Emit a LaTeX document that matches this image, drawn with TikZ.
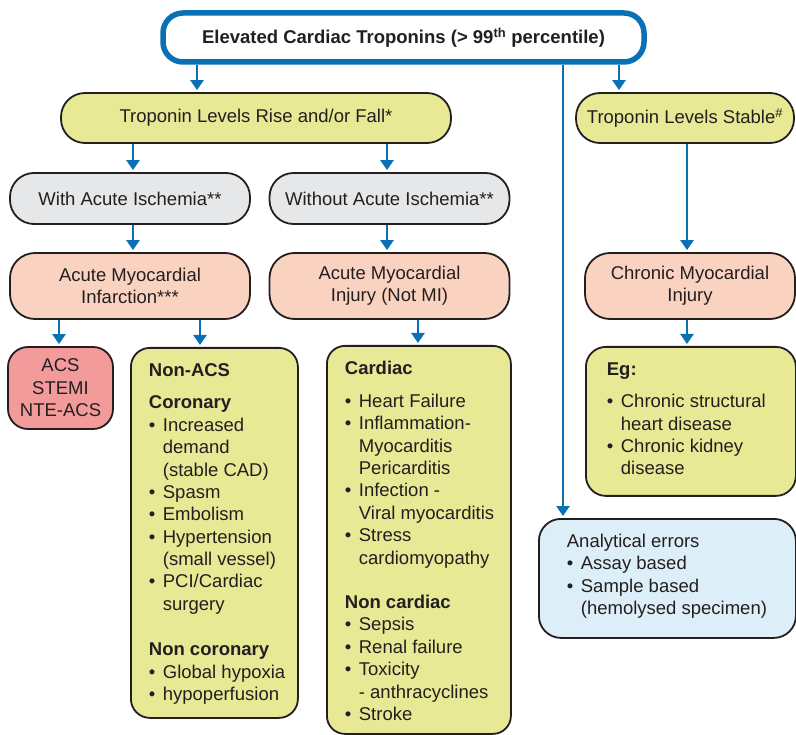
\documentclass[tikz,border=0pt]{standalone}
\usepackage{fontspec}
\setmainfont{Liberation Sans}
\usetikzlibrary{arrows.meta}

\definecolor{tblue}{HTML}{0A70B4}
\definecolor{edge}{HTML}{231F20}
\definecolor{ink}{HTML}{231F20}
\definecolor{yfill}{HTML}{E7E995}
\definecolor{gfill}{HTML}{E6E7E8}
\definecolor{pfill}{HTML}{FAD3C0}
\definecolor{rfill}{HTML}{F39A9B}
\definecolor{bfill}{HTML}{DCEFF8}

\tikzset{
    arr/.style={-{Triangle[width=13pt,length=10pt]}, line width=2.6pt, draw=tblue, shorten >=2pt},
    pill/.style={draw=edge, line width=1.8pt, rounded corners=24pt, align=center, inner sep=0pt},
    listbox/.style={draw=edge, line width=1.8pt, rounded corners=19pt, anchor=north west, inner sep=0pt},
}

% bullet line with hanging indent
\newcommand\bul[1]{\par\hangindent=14pt\hangafter=1\makebox[14pt][l]{\textbullet}#1}
% padding, width, height, content
\newcommand\boxtext[4]{\parbox[c][#3pt][t]{#2pt}{\raggedright\leftskip=#1pt\rule{0pt}{28.5pt}#4}}

\begin{document}
\begin{tikzpicture}[x=1pt,y=-1pt, every node/.style={font=\fontsize{18.5}{22.4}\selectfont, text=ink}]
    \useasboundingbox (0,0) rectangle (796,735);

    % top row
    \node[pill, draw=tblue, line width=5.5pt, fill=white, rounded corners=20pt, minimum width=481pt, minimum height=49pt,
        font=\fontsize{18.5}{22.4}\selectfont\bfseries] (top) at (403.5,37.5) {Elevated Cardiac Troponins (> 99\textsuperscript{th} percentile)};
    \node[pill, fill=yfill, minimum width=390pt, minimum height=50pt] (rise) at (256,118) {Troponin Levels Rise and/or Fall*};
    \node[pill, fill=yfill, minimum width=218pt, minimum height=50pt] (stable) at (685,118) {Troponin Levels Stable\textsuperscript{\#}};

    \node[pill, fill=gfill, minimum width=240pt, minimum height=51pt] (with) at (130,198.5) {With Acute Ischemia**};
    \node[pill, fill=gfill, minimum width=240pt, minimum height=51pt] (without) at (389.5,198.5) {Without Acute Ischemia**};

    \node[pill, fill=pfill, rounded corners=25pt, minimum width=240pt, minimum height=66pt] (ami) at (130,286) {Acute Myocardial\\Infarction***};
    \node[pill, fill=pfill, rounded corners=25pt, minimum width=240pt, minimum height=66pt] (ainj) at (389.5,286) {Acute Myocardial\\Injury (Not MI)};
    \node[pill, fill=pfill, rounded corners=25pt, minimum width=210pt, minimum height=66pt] (cinj) at (690,286) {Chronic Myocardial\\Injury};

    % lower boxes
    \node[pill, fill=rfill, rounded corners=20pt, minimum width=105pt, minimum height=82pt] (acs) at (60.5,388) {ACS\\STEMI\\NTE-ACS};

    \node[listbox, fill=yfill] (nonacs) at (130,347) {\boxtext{18}{167}{370}{%
        \textbf{Non-ACS}\par\vspace{10pt}
        \textbf{Coronary}
        \bul{Increased\newline demand\newline (stable CAD)}
        \bul{Spasm}
        \bul{Embolism}
        \bul{Hypertension\newline (small vessel)}
        \bul{PCI/Cardiac\newline surgery}
        \par\vspace{23pt}
        \textbf{Non coronary}
        \bul{Global hypoxia}
        \bul{hypoperfusion}}};

    \node[listbox, fill=yfill, rounded corners=18pt] (cardiac) at (326,345) {\boxtext{18}{184}{388}{%
        \textbf{Cardiac}\par\vspace{10.5pt}
        \bul{Heart Failure}
        \bul{Inflammation-\newline Myocarditis\newline Pericarditis}
        \bul{Infection -\newline Viral myocarditis}
        \bul{Stress\newline cardiomyopathy}
        \par\vspace{22pt}
        \textbf{Non cardiac}
        \bul{Sepsis}
        \bul{Renal failure}
        \bul{Toxicity\newline - anthracyclines}
        \bul{Stroke}}};

    \node[listbox, fill=yfill, rounded corners=20pt] (eg) at (585,346) {\boxtext{21}{210}{149}{%
        \textbf{Eg:}\par\vspace{10pt}
        \bul{Chronic structural\newline heart disease}
        \bul{Chronic kidney\newline disease}}};

    \node[listbox, fill=bfill, rounded corners=22pt] (anal) at (538,518) {\boxtext{28}{257}{119}{%
        Analytical errors
        \bul{Assay based}
        \bul{Sample based\newline (hemolysed specimen)}}};

    % arrows
    \draw[arr] (top.south -| 197,0) -- (rise.north -| 197,0);
    \draw[arr] (top.south -| 619,0) -- (stable.north -| 619,0);
    \draw[arr] (top.south -| 563,0) -- (anal.north -| 563,0);
    \draw[arr] (rise.south -| 133,0) -- (with.north -| 133,0);
    \draw[arr] (rise.south -| 387,0) -- (without.north -| 387,0);
    \draw[arr] (with.south -| 133,0) -- (ami.north -| 133,0);
    \draw[arr] (without.south -| 387,0) -- (ainj.north -| 387,0);
    \draw[arr] (stable.south -| 687,0) -- (cinj.north -| 687,0);
    \draw[arr] (cinj.south -| 687,0) -- (eg.north -| 687,0);
    \draw[arr] (ami.south -| 59,0) -- (acs.north -| 59,0);
    \draw[arr] (ami.south -| 200,0) -- (nonacs.north -| 200,0);
    \draw[arr] (ainj.south -| 418,0) -- (cardiac.north -| 418,0);
\end{tikzpicture}
\end{document}
